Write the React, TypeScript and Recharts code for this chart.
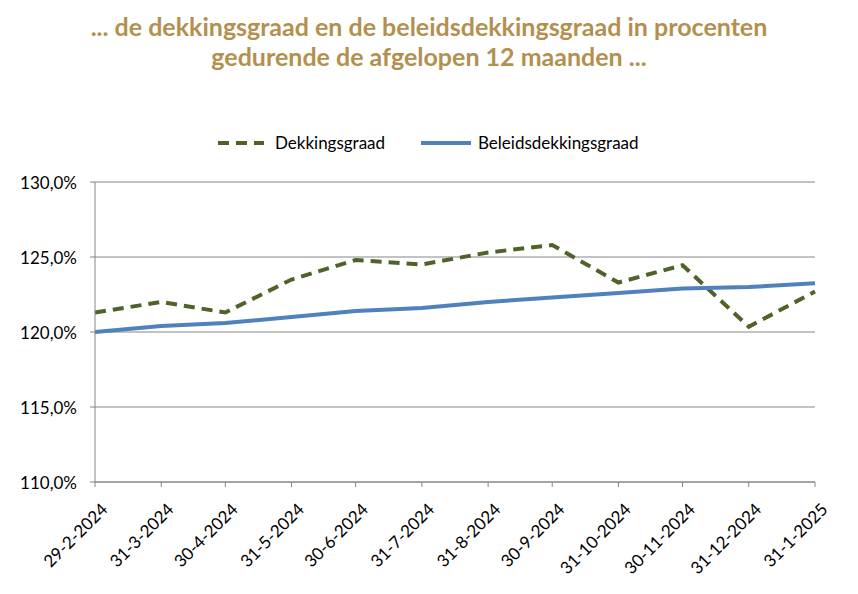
import React from "react";
import { LineChart, Line, XAxis, YAxis, CartesianGrid } from "recharts";

const dateLabels = [
  "29-2-2024", "31-3-2024", "30-4-2024", "31-5-2024", "30-6-2024", "31-7-2024",
  "31-8-2024", "30-9-2024", "31-10-2024", "30-11-2024", "31-12-2024", "31-1-2025",
];
const dekkingsgraad = [121.3, 122.0, 121.3, 123.5, 124.8, 124.5, 125.3, 125.8, 123.3, 124.45, 120.35, 122.7];
const beleidsdekkingsgraad = [120.0, 120.4, 120.6, 121.0, 121.4, 121.6, 122.0, 122.3, 122.6, 122.9, 123.0, 123.25];
const yTicks = [110, 115, 120, 125, 130];
const seriesNames = ["Dekkingsgraad", "Beleidsdekkingsgraad"];
const titleLines = [
  "... de dekkingsgraad en de beleidsdekkingsgraad in procenten",
  "gedurende de afgelopen 12 maanden ...",
];

const toTime = (s: string) => {
  const [d, m, y] = s.split("-").map(Number);
  return Date.UTC(y, m - 1, d);
};
const times = dateLabels.map(toTime);
const data = dateLabels.map((lab, i) => ({
  t: times[i],
  label: lab,
  dek: dekkingsgraad[i],
  bel: beleidsdekkingsgraad[i],
}));
const labelByTime: Record<number, string> = {};
times.forEach((t, i) => (labelByTime[t] = dateLabels[i]));

const FONT = "Lato, 'Open Sans', sans-serif";
const DEK = "#4F6228";
const BEL = "#4F81BD";

const XTick = (props: any) => {
  const { x, y, payload } = props;
  return (
    <text
      x={0}
      y={0}
      transform={`translate(${x + 4},${y + 12}) rotate(-45)`}
      textAnchor="end"
      dominantBaseline="hanging"
      fontSize={17}
      fontFamily={FONT}
      fill="#000"
    >
      {labelByTime[payload.value]}
    </text>
  );
};

const YTick = (props: any) => {
  const { y, payload } = props;
  return (
    <text
      x={77}
      y={y}
      textAnchor="end"
      dominantBaseline="central"
      fontSize={17}
      fontFamily={FONT}
      fill="#000"
    >
      {payload.value.toFixed(1).replace(".", ",") + "%"}
    </text>
  );
};

export default function App() {
  return (
    <div style={{ position: "absolute", left: 0, top: 0, width: 858, height: 594, background: "#fff" }}>
      <div
        style={{
          position: "absolute",
          top: 11,
          left: 0,
          width: 858,
          textAlign: "center",
          fontFamily: FONT,
          fontWeight: 700,
          fontSize: 25,
          lineHeight: "30px",
          color: "#B3904E",
        }}
      >
        {titleLines.map((l) => (
          <div key={l}>{l}</div>
        ))}
      </div>
      <div style={{ position: "absolute", top: 132, left: 0, width: 858, height: 22, fontFamily: FONT, fontSize: 17, color: "#000" }}>
        <svg width={50} height={10} style={{ position: "absolute", left: 216, top: 6 }}>
          <line x1={2} y1={5} x2={48} y2={5} stroke={DEK} strokeWidth={4} strokeDasharray="11 7" />
        </svg>
        <span style={{ position: "absolute", left: 275, top: 0, lineHeight: "22px" }}>{seriesNames[0]}</span>
        <svg width={52} height={10} style={{ position: "absolute", left: 421, top: 6 }}>
          <line x1={0} y1={5} x2={50} y2={5} stroke={BEL} strokeWidth={4} />
        </svg>
        <span style={{ position: "absolute", left: 478, top: 0, lineHeight: "22px" }}>{seriesNames[1]}</span>
      </div>
      <div style={{ position: "absolute", left: 0, top: 0 }}>
        <LineChart
          width={858}
          height={594}
          data={data}
          margin={{ top: 182, right: 43, bottom: 0, left: 0 }}
        >
          <CartesianGrid vertical={false} stroke="#868686" strokeWidth={1} />
          <XAxis
            dataKey="t"
            type="number"
            scale="time"
            domain={[times[0], times[times.length - 1]]}
            ticks={times}
            interval={0}
            tick={<XTick />}
            tickSize={5}
            stroke="#868686"
            height={112}
          />
          <YAxis
            type="number"
            domain={[110, 130]}
            ticks={yTicks}
            width={95}
            tickSize={5}
            stroke="#868686"
            tick={<YTick />}
          />
          <Line
            type="linear"
            dataKey="dek"
            name={seriesNames[0]}
            stroke={DEK}
            strokeWidth={4}
            strokeDasharray="11 7"
            dot={false}
            isAnimationActive={false}
          />
          <Line
            type="linear"
            dataKey="bel"
            name={seriesNames[1]}
            stroke={BEL}
            strokeWidth={4}
            dot={false}
            isAnimationActive={false}
          />
        </LineChart>
      </div>
    </div>
  );
}
